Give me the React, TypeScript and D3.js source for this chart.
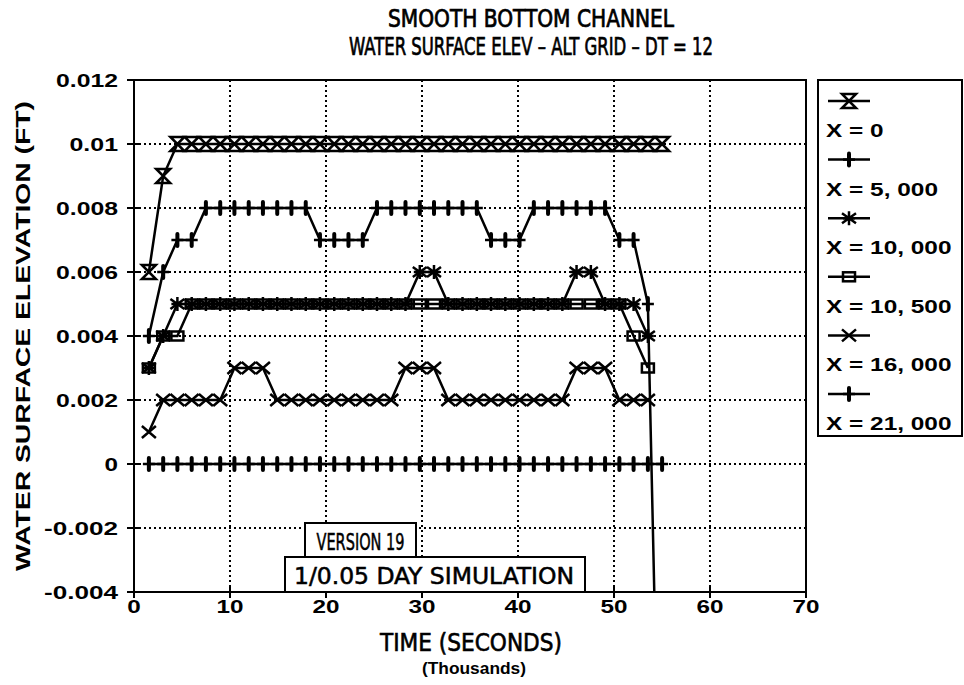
import React from "react";
import * as d3 from "d3";

// Output times (thousands of seconds)
const times = [
  1.55, 3.04, 4.52, 6.01, 7.49, 8.98, 10.46, 11.95, 13.43, 14.92, 16.4, 17.89,
  19.37, 20.86, 22.34, 23.83, 25.31, 26.8, 28.28, 29.77, 31.25, 32.74, 34.22,
  35.71, 37.19, 38.68, 40.16, 41.65, 43.13, 44.62, 46.1, 47.59, 49.07, 50.56,
  52.04, 53.53, 55.01,
];

// Water surface elevation (ft) at each station
const elevX0 = [
  0.006, 0.009, 0.01, 0.01, 0.01, 0.01, 0.01, 0.01, 0.01, 0.01, 0.01, 0.01,
  0.01, 0.01, 0.01, 0.01, 0.01, 0.01, 0.01, 0.01, 0.01, 0.01, 0.01, 0.01, 0.01,
  0.01, 0.01, 0.01, 0.01, 0.01, 0.01, 0.01, 0.01, 0.01, 0.01, 0.01, 0.01,
];
const elevX5000 = [
  0.004, 0.006, 0.007, 0.007, 0.008, 0.008, 0.008, 0.008, 0.008, 0.008, 0.008,
  0.008, 0.007, 0.007, 0.007, 0.007, 0.008, 0.008, 0.008, 0.008, 0.008, 0.008,
  0.008, 0.008, 0.007, 0.007, 0.007, 0.008, 0.008, 0.008, 0.008, 0.008, 0.008,
  0.007, 0.007, 0.005, -0.015,
];
const elevX10000 = [
  0.003, 0.004, 0.005, 0.005, 0.005, 0.005, 0.005, 0.005, 0.005, 0.005, 0.005,
  0.005, 0.005, 0.005, 0.005, 0.005, 0.005, 0.005, 0.005, 0.006, 0.006, 0.005,
  0.005, 0.005, 0.005, 0.005, 0.005, 0.005, 0.005, 0.005, 0.006, 0.006, 0.005,
  0.005, 0.005, 0.004,
];
const elevX10500 = [
  0.003, 0.004, 0.004, 0.005, 0.005, 0.005, 0.005, 0.005, 0.005, 0.005, 0.005,
  0.005, 0.005, 0.005, 0.005, 0.005, 0.005, 0.005, 0.005, 0.005, 0.005, 0.005,
  0.005, 0.005, 0.005, 0.005, 0.005, 0.005, 0.005, 0.005, 0.005, 0.005, 0.005,
  0.005, 0.004, 0.003,
];
const elevX16000 = [
  0.001, 0.002, 0.002, 0.002, 0.002, 0.002, 0.003, 0.003, 0.003, 0.002, 0.002,
  0.002, 0.002, 0.002, 0.002, 0.002, 0.002, 0.002, 0.003, 0.003, 0.003, 0.002,
  0.002, 0.002, 0.002, 0.002, 0.002, 0.002, 0.002, 0.002, 0.003, 0.003, 0.003,
  0.002, 0.002, 0.002,
];
const elevX21000 = [
  0, 0, 0, 0, 0, 0, 0, 0, 0, 0, 0, 0, 0, 0, 0, 0, 0, 0, 0, 0, 0, 0, 0, 0, 0, 0,
  0, 0, 0, 0, 0, 0, 0, 0, 0, 0, 0,
];

const seriesLabels = [
  "X = 0",
  "X = 5, 000",
  "X = 10, 000",
  "X = 10, 500",
  "X = 16, 000",
  "X = 21, 000",
];
const seriesMarkers = ["hourglass", "plus", "asterisk", "square", "cross", "plus"];
const seriesValues = [elevX0, elevX5000, elevX10000, elevX10500, elevX16000, elevX21000];

const yTicks = [-0.004, -0.002, 0, 0.002, 0.004, 0.006, 0.008, 0.01, 0.012];
const yTickLabels = ["-0.004", "-0.002", "0", "0.002", "0.004", "0.006", "0.008", "0.01", "0.012"];
const xTicks = [0, 10, 20, 30, 40, 50, 60, 70];
const xTickLabels = ["0", "10", "20", "30", "40", "50", "60", "70"];

const titleLines = ["SMOOTH BOTTOM CHANNEL", "WATER SURFACE ELEV \u2013 ALT GRID \u2013 DT = 12"];
const xTitle = "TIME (SECONDS)";
const xSubtitle = "(Thousands)";
const yTitle = "WATER SURFACE ELEVATION (FT)";
const notes = ["VERSION 19", "1/0.05 DAY SIMULATION"];

const W = 964;
const H = 685;
const plot = { left: 134, top: 80, right: 806, bottom: 592 };

const x = d3.scaleLinear().domain([0, 70]).range([plot.left, plot.right]);
const y = d3.scaleLinear().domain([-0.004, 0.012]).range([plot.bottom, plot.top]);

const BOLD = "'Liberation Sans', Arial, sans-serif";
const NARROW = "'Liberation Sans Narrow', 'DejaVu Sans Condensed', 'Liberation Sans', sans-serif";

function charWidth(c: string): number {
  if (/[0-9]/.test(c)) return 13.5;
  if (c === ".") return 8;
  if (c === "-") return 12;
  if (c === ",") return 6;
  if (c === " ") return 8;
  if (c === "=") return 14;
  return 14;
}
const textWidth = (s: string) => s.split("").reduce((a, c) => a + charWidth(c), 0);

const SW = 2.5;

function Marker({ kind, cx, cy }: { kind: string; cx: number; cy: number }) {
  const common = { stroke: "#000", strokeWidth: SW, fill: "none" };
  const t = `translate(${cx},${cy})`;
  switch (kind) {
    case "hourglass":
      return <path transform={t} d="M-7,-7H7L-7,7H7Z" {...common} strokeLinejoin="miter" />;
    case "plus":
      return (
        <g transform={t}>
          <path d="M0,-6V6" stroke="#000" strokeWidth={4} strokeLinecap="round" />
          <path d="M-6,0H6" {...common} />
        </g>
      );
    case "asterisk":
      return (
        <path transform={t} d="M0,-7V7M-7,-5L7,5M-7,5L7,-5M-6,0H6" {...common} />
      );
    case "square":
      return <rect transform={t} x={-6} y={-4.5} width={12} height={9} {...common} />;
    case "cross":
      return <path transform={t} d="M-7,-6L7,6M-7,6L7,-6" {...common} />;
    default:
      return null;
  }
}

export default function App() {
  const line = d3
    .line<number>()
    .x((_, i) => x(times[i]))
    .y((d) => y(d));

  const legendX = 818;
  const legendTop = 80;
  const legendBottom = 436;
  const legendStep = 58.6;

  return (
    <svg
      width={W}
      height={H}
      viewBox={`0 0 ${W} ${H}`}
      style={{ position: "absolute", left: 0, top: 0, background: "#fff" }}
    >
      <defs>
        <clipPath id="plotClip">
          <rect
            x={plot.left}
            y={plot.top}
            width={plot.right - plot.left}
            height={plot.bottom - plot.top}
          />
        </clipPath>
      </defs>
      <rect x={0} y={0} width={W} height={H} fill="#fff" />

      {/* Title */}
      {titleLines.map((t, i) => (
        <text
          key={t}
          x={531}
          y={27 + i * 28}
          textAnchor="middle"
          fontFamily={NARROW}
          fontSize={24}
          stroke="#000"
          strokeWidth={0.7}
          textLength={i === 0 ? 286 : 364}
          lengthAdjust="spacingAndGlyphs"
        >
          {t}
        </text>
      ))}

      {/* Grid */}
      <g stroke="#000" strokeWidth={2} strokeDasharray="2 3">
        {yTicks
          .filter((v) => v > -0.004 && v < 0.012)
          .map((v) => (
            <line key={`gy${v}`} x1={plot.left} x2={plot.right} y1={y(v)} y2={y(v)} />
          ))}
        {xTicks
          .filter((v) => v > 0 && v < 70)
          .map((v) => (
            <line key={`gx${v}`} x1={x(v)} x2={x(v)} y1={plot.top} y2={plot.bottom} />
          ))}
      </g>

      {/* Axis frame and ticks */}
      <rect
        x={plot.left}
        y={plot.top}
        width={plot.right - plot.left}
        height={plot.bottom - plot.top}
        fill="none"
        stroke="#000"
        strokeWidth={2}
      />
      {yTicks.map((v) => (
        <line key={`ty${v}`} x1={plot.left - 7} x2={plot.left + 7} y1={y(v)} y2={y(v)} stroke="#000" strokeWidth={2} />
      ))}
      {xTicks.map((v) => (
        <line key={`tx${v}`} x1={x(v)} x2={x(v)} y1={plot.bottom - 6} y2={plot.bottom + 6} stroke="#000" strokeWidth={2} />
      ))}

      {/* Tick labels */}
      {yTicks.map((v, i) => (
        <text
          key={`ly${v}`}
          x={118}
          y={y(v) + 7}
          textAnchor="end"
          fontFamily={BOLD}
          fontWeight="bold"
          fontSize={19}
          textLength={textWidth(yTickLabels[i])}
          lengthAdjust="spacingAndGlyphs"
        >
          {yTickLabels[i]}
        </text>
      ))}
      {xTicks.map((v, i) => (
        <text
          key={`lx${v}`}
          x={x(v)}
          y={613}
          textAnchor="middle"
          fontFamily={BOLD}
          fontWeight="bold"
          fontSize={19}
          textLength={textWidth(xTickLabels[i])}
          lengthAdjust="spacingAndGlyphs"
        >
          {xTickLabels[i]}
        </text>
      ))}

      {/* Axis titles */}
      <text
        x={471}
        y={651}
        textAnchor="middle"
        fontFamily={NARROW}
        fontSize={25}
        stroke="#000"
        strokeWidth={0.6}
        textLength={182}
        lengthAdjust="spacingAndGlyphs"
      >
        {xTitle}
      </text>
      <text
        x={474}
        y={674}
        textAnchor="middle"
        fontFamily={BOLD}
        fontWeight="bold"
        fontSize={17}
        textLength={104}
        lengthAdjust="spacingAndGlyphs"
      >
        {xSubtitle}
      </text>
      <text
        transform={`translate(30,336) rotate(-90)`}
        textAnchor="middle"
        fontFamily={BOLD}
        fontWeight="bold"
        fontSize={21}
        textLength={470}
        lengthAdjust="spacingAndGlyphs"
      >
        {yTitle}
      </text>

      {/* Annotation boxes */}
      <g>
        <rect x={305} y={523} width={111} height={36} fill="#fff" stroke="#000" strokeWidth={2} />
        <text
          x={360.5}
          y={550}
          textAnchor="middle"
          fontFamily={NARROW}
          fontSize={23}
          stroke="#000"
          strokeWidth={0.5}
          textLength={88}
          lengthAdjust="spacingAndGlyphs"
        >
          {notes[0]}
        </text>
        <rect x={285} y={557} width={300} height={35} fill="#fff" stroke="#000" strokeWidth={2} />
        <text
          x={434}
          y={584}
          textAnchor="middle"
          fontFamily={NARROW}
          fontSize={23}
          stroke="#000"
          strokeWidth={0.5}
          textLength={280}
          lengthAdjust="spacingAndGlyphs"
        >
          {notes[1]}
        </text>
      </g>

      {/* Series */}
      <g clipPath="url(#plotClip)">
        {seriesValues.map((vals, si) => (
          <g key={`s${si}`}>
            <path d={line(vals) || ""} fill="none" stroke="#000" strokeWidth={SW} />
            {vals.map((v, i) => (
              <Marker key={i} kind={seriesMarkers[si]} cx={x(times[i])} cy={y(v)} />
            ))}
          </g>
        ))}
      </g>

      {/* Legend */}
      <rect
        x={legendX}
        y={legendTop}
        width={W - legendX - 2}
        height={legendBottom - legendTop}
        fill="none"
        stroke="#000"
        strokeWidth={2}
      />
      {seriesLabels.map((lab, i) => {
        const sy = 101 + i * legendStep;
        return (
          <g key={lab}>
            <line x1={828} x2={870} y1={sy} y2={sy} stroke="#000" strokeWidth={SW} />
            <Marker kind={seriesMarkers[i]} cx={849} cy={sy} />
            <text
              x={826}
              y={sy + 36}
              fontFamily={BOLD}
              fontWeight="bold"
              fontSize={19}
              textLength={textWidth(lab)}
              lengthAdjust="spacingAndGlyphs"
            >
              {lab}
            </text>
          </g>
        );
      })}
    </svg>
  );
}
